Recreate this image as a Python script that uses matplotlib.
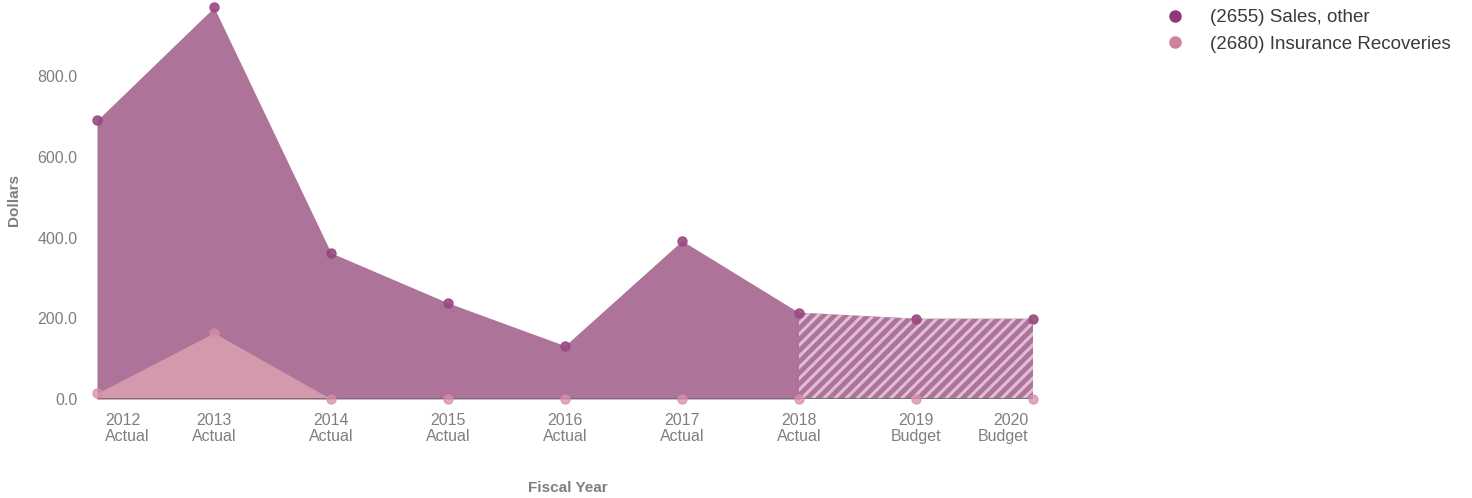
import matplotlib
matplotlib.use("Agg")
import matplotlib.pyplot as plt
import matplotlib.transforms as mtransforms
from matplotlib.lines import Line2D
import numpy as np

plt.rcParams['font.family'] = ['Liberation Sans', 'DejaVu Sans']
plt.rcParams['hatch.linewidth'] = 2.2

# Data
years = ["2012", "2013", "2014", "2015", "2016", "2017", "2018", "2019", "2020"]
kinds = ["Actual", "Actual", "Actual", "Actual", "Actual", "Actual", "Actual", "Budget", "Budget"]
sales_other = [690, 970, 362, 238, 132, 392, 214, 199, 199]
insurance_recoveries = [14, 164, 0, 0, 0, 0, 0, 0, 0]
series_names = ["(2655) Sales, other", "(2680) Insurance Recoveries"]
y_ticks = [0, 200, 400, 600, 800]

# Colours
sales_fill = "#AD7399"
sales_marker = "#974A80"
ins_fill = "#D29AAC"
ins_marker = "#D88DA8"
hatch_color = "#E2BDD6"
text_grey = "#7F7F7F"
legend_sales = "#8E3A78"
legend_ins = "#D07F9E"

W, H = 1472, 498
fig = plt.figure(figsize=(W / 100, H / 100), dpi=100)
ax = fig.add_axes([97 / W, (H - 399) / H, 936 / W, 399 / H])

x = np.arange(len(years))
sales = np.array(sales_other, dtype=float)
ins = np.array(insurance_recoveries, dtype=float)
n_actual = kinds.count("Actual")

# Actual years: solid area; budget years: hatched area
ax.fill_between(x[:n_actual], 0, sales[:n_actual], color=sales_fill, linewidth=0, zorder=1)
ax.fill_between(x[n_actual - 1:], 0, sales[n_actual - 1:], facecolor=sales_fill,
                edgecolor=hatch_color, hatch="///", linewidth=0, zorder=1)
ax.fill_between(x, 0, ins, color=ins_fill, linewidth=0, zorder=2)

ax.axhline(0, color="#6E6E6E", linewidth=2, zorder=3)

ax.plot(x, sales, linestyle="none", marker="o", markersize=6.5,
        color=sales_marker, alpha=0.9, zorder=4, clip_on=False)
ax.plot(x, ins, linestyle="none", marker="o", markersize=6.5,
        color=ins_marker, alpha=0.75, zorder=5, clip_on=False)

ax.set_xlim(0, len(years) - 1)
ax.set_ylim(0, 399 / 0.40375)

for s in ax.spines.values():
    s.set_visible(False)

ax.set_yticks(y_ticks)
ax.set_yticklabels([f"{v:.1f}" for v in y_ticks])
ax.set_xticks(x)
ax.set_xticklabels([f"{y}\n{k}" for y, k in zip(years, kinds)], linespacing=1.1)
ax.tick_params(axis="both", length=0, labelsize=11.5, labelcolor=text_grey)
ax.tick_params(axis="x", pad=10)
ax.tick_params(axis="y", pad=14)

# Keep the outermost category labels inside the plot width
labels = ax.get_xticklabels()
labels[0].set_horizontalalignment("left")
labels[0].set_multialignment("left")
labels[0].set_transform(labels[0].get_transform()
                        + mtransforms.ScaledTranslation(0.08, 0, fig.dpi_scale_trans))
labels[-1].set_horizontalalignment("right")
labels[-1].set_multialignment("right")
labels[-1].set_transform(labels[-1].get_transform()
                         + mtransforms.ScaledTranslation(-0.05, 0, fig.dpi_scale_trans))

fig.text(14 / W, 1 - 200 / H, "Dollars", rotation=90, ha="center", va="center",
         fontsize=11, fontweight="bold", color=text_grey)
fig.text(568 / W, 1 - 488 / H, "Fiscal Year", ha="center", va="center",
         fontsize=11, fontweight="bold", color=text_grey)

handles = [
    Line2D([], [], linestyle="none", marker="o", markersize=8, color=legend_sales),
    Line2D([], [], linestyle="none", marker="o", markersize=8, color=legend_ins),
]
fig.legend(handles, series_names, loc="upper left", bbox_to_anchor=(1166 / W, 1 - 9 / H),
           frameon=False, fontsize=13.5, labelcolor="#3A3A3A", handlelength=1.0,
           handletextpad=1.33, labelspacing=0.5, borderaxespad=0, borderpad=0)

fig.savefig("out.png", dpi=100)
